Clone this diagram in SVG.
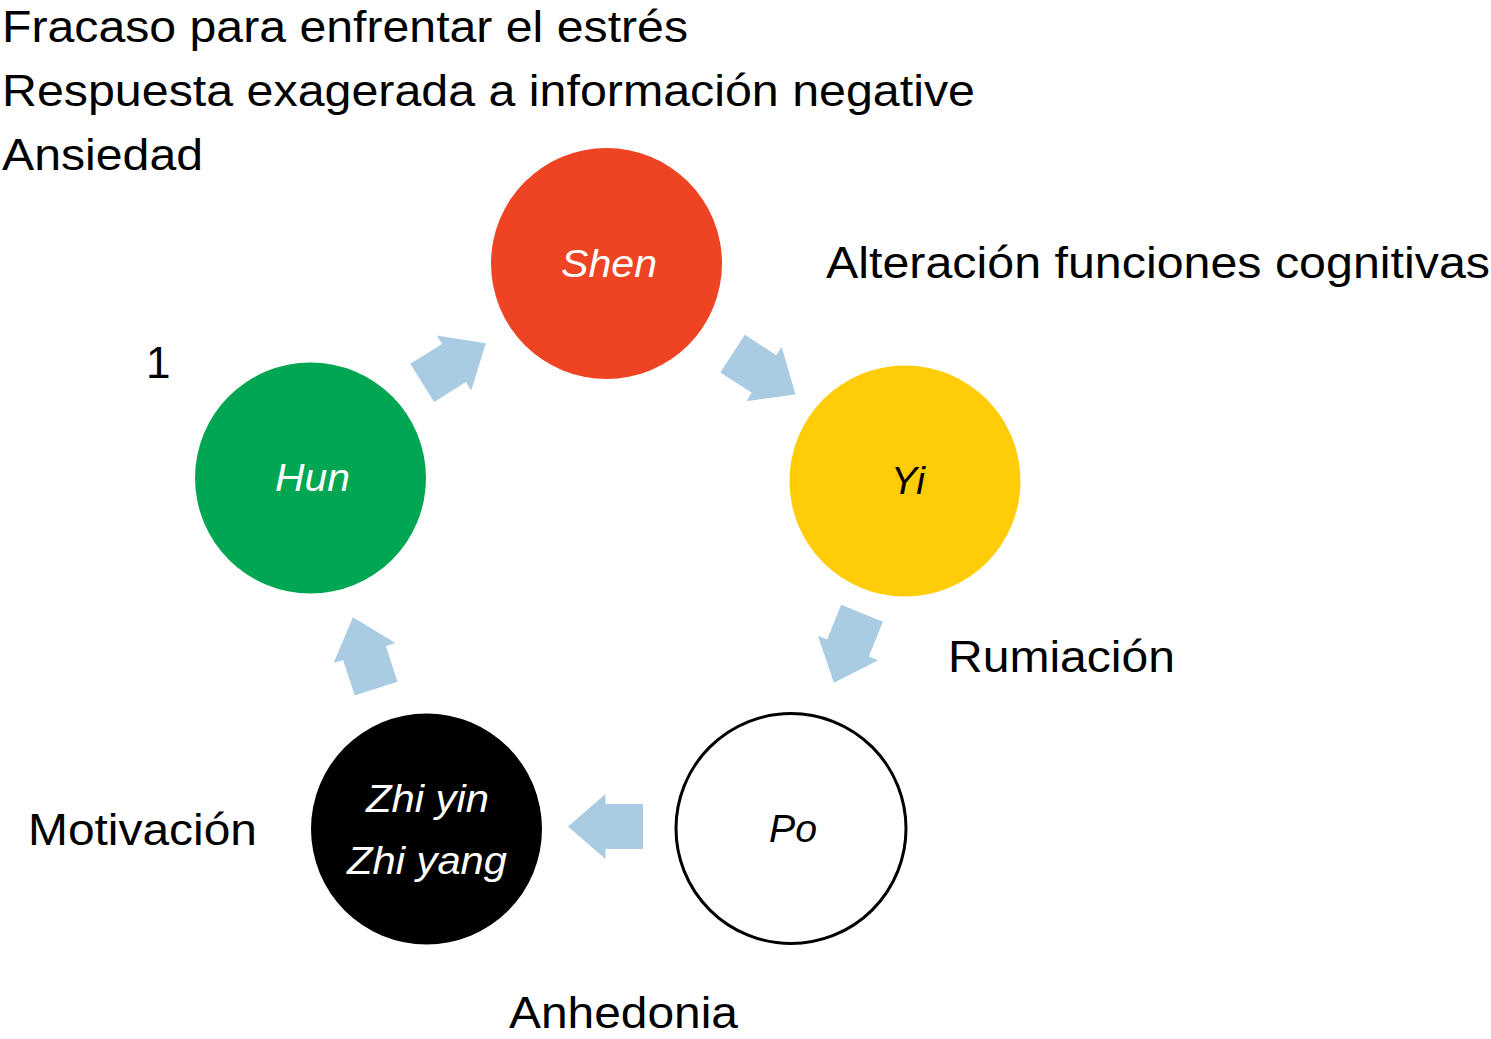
<svg xmlns="http://www.w3.org/2000/svg" width="1491" height="1039" viewBox="0 0 1491 1039">
<style>
.lbl{font-family:"Liberation Sans",Arial,sans-serif;font-size:44px;fill:#000}
.nl{font-family:"Liberation Sans",Arial,sans-serif;font-size:39px;font-style:italic;text-anchor:middle}
.arr{fill:#A9CCE3}
</style>
<defs>
<polygon id="blk" points="-37.5,-22.5 0,-22.5 0,-32.5 37.5,0 0,32.5 0,22.5 -37.5,22.5"/>
</defs>
<rect width="1491" height="1039" fill="#fff"/>
<g id="texts">
<text class="lbl" x="2" y="42" textLength="686" lengthAdjust="spacingAndGlyphs">Fracaso para enfrentar el estrés</text>
<text class="lbl" x="2" y="106" textLength="973" lengthAdjust="spacingAndGlyphs">Respuesta exagerada a información negative</text>
<text class="lbl" x="2" y="170" textLength="201" lengthAdjust="spacingAndGlyphs">Ansiedad</text>
<text class="lbl" x="826" y="278" textLength="664" lengthAdjust="spacingAndGlyphs">Alteración funciones cognitivas</text>
<text class="lbl" x="146" y="378">1</text>
<text class="lbl" x="948" y="672" textLength="227" lengthAdjust="spacingAndGlyphs">Rumiación</text>
<text class="lbl" x="28" y="845" textLength="229" lengthAdjust="spacingAndGlyphs">Motivación</text>
<text class="lbl" x="509" y="1028" textLength="229" lengthAdjust="spacingAndGlyphs">Anhedonia</text>
</g>
<g id="connectors">
<use href="#blk" class="arr" transform="translate(454,363) rotate(-32)"/>
<use href="#blk" class="arr" transform="translate(764,374) rotate(33)"/>
<use href="#blk" class="arr" transform="translate(848,648) rotate(112)"/>
<use href="#blk" class="arr" transform="translate(605.5,826.5) rotate(180)"/>
<use href="#blk" class="arr" transform="translate(364.5,653) rotate(252)"/>
</g>
<g id="shen"><circle cx="606.5" cy="263.5" r="115.5" fill="#EE4423"/><text class="nl" x="609" y="277" fill="#fff" textLength="96" lengthAdjust="spacingAndGlyphs">Shen</text></g>
<g id="yi"><circle cx="905" cy="481" r="115.5" fill="#FFCC08"/><text class="nl" x="908" y="494" fill="#000" textLength="34" lengthAdjust="spacingAndGlyphs">Yi</text></g>
<g id="po"><circle cx="791" cy="828.5" r="115" fill="#fff" stroke="#000" stroke-width="3"/><text class="nl" x="793" y="842" fill="#000" textLength="48" lengthAdjust="spacingAndGlyphs">Po</text></g>
<g id="zhi"><circle cx="426.5" cy="829" r="115.5" fill="#000"/><text class="nl" x="427.5" y="812" fill="#fff" textLength="123" lengthAdjust="spacingAndGlyphs">Zhi yin</text><text class="nl" x="427" y="874" fill="#fff" textLength="160" lengthAdjust="spacingAndGlyphs">Zhi yang</text></g>
<g id="hun"><circle cx="310.5" cy="478" r="115.5" fill="#00A651"/><text class="nl" x="312.5" y="491" fill="#fff" textLength="75" lengthAdjust="spacingAndGlyphs">Hun</text></g>
</svg>
